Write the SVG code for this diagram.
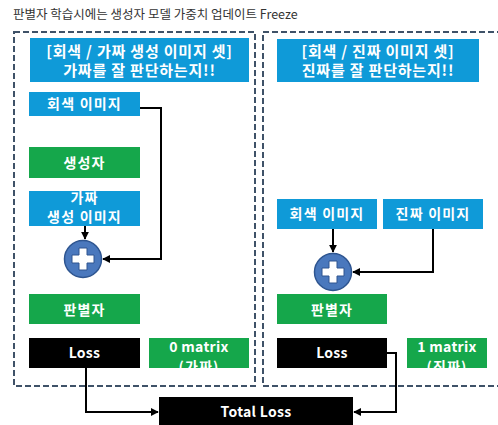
<svg xmlns="http://www.w3.org/2000/svg" width="498" height="425" viewBox="0 0 498 425">
<defs>
<marker id="ah" viewBox="0 0 10 10" refX="9" refY="5" markerWidth="4" markerHeight="4" orient="auto"><path d="M0,0 L10,5 L0,10 z" fill="#000"/></marker>
<clipPath id="cz"><rect x="149" y="338" width="100" height="30"/></clipPath>
<clipPath id="co"><rect x="407" y="338" width="80" height="30"/></clipPath>
<style>
.t{font-family:"Noto Sans CJK KR","Malgun Gothic",sans-serif;font-weight:bold;fill:#fff;text-anchor:middle;font-size:14px;letter-spacing:1.2px}
.h{font-size:15px;letter-spacing:0.8px}
.l{letter-spacing:0.3px}
.blue{fill:#0f9ad8}
.green{fill:#15a74b}
.black{fill:#000}
.dash{fill:none;stroke:#3f5268;stroke-width:2;stroke-dasharray:6,3}
.c{fill:none;stroke:#000;stroke-width:2}
</style>
</defs>
<rect width="498" height="425" fill="#fff"/>
<text x="13" y="19" font-family="'Noto Sans CJK KR',sans-serif" font-size="12.5" fill="#333">판별자 학습시에는 생성자 모델 가중치 업데이트 Freeze</text>
<g id="frame-left"><rect class="dash" x="14" y="32" width="241" height="354"/></g>
<g id="frame-right"><rect class="dash" x="263" y="32" width="240" height="354"/></g>
<g id="hdr-left"><rect class="blue" x="30" y="38" width="219" height="44"/><text class="t h" x="139.500" y="57">[회색 / 가짜 생성 이미지 셋]</text><text class="t h" x="139.500" y="76">가짜를 잘 판단하는지!!</text></g>
<g id="hdr-right"><rect class="blue" x="277" y="39" width="202" height="43"/><text class="t h" x="378" y="57">[회색 / 진짜 이미지 셋]</text><text class="t h" x="378" y="76">진짜를 잘 판단하는지!!</text></g>
<g id="gray-left"><rect class="blue" x="29" y="92" width="111" height="24"/><text class="t" x="84.500" y="109">회색 이미지</text></g>
<g id="gen"><rect class="green" x="29" y="147" width="111" height="31"/><text class="t" x="84.500" y="168">생성자</text></g>
<g id="fake-img"><rect class="blue" x="29" y="191" width="111" height="35"/><text class="t" x="84.500" y="203">가짜</text><text class="t" x="84.500" y="222">생성 이미지</text></g>
<g id="plus-left"><circle cx="83" cy="259" r="18.500" fill="#4a78bd" stroke="#2e5590" stroke-width="1.500"/><path d="M79,248 h8 v7 h7 v8 h-7 v7 h-8 v-7 h-7 v-8 h7 z" fill="#fff" stroke="#2e5590" stroke-width="1"/></g>
<g id="disc-left"><rect class="green" x="29" y="294" width="111" height="30"/><text class="t" x="84.500" y="315">판별자</text></g>
<g id="loss-left"><rect class="black" x="29" y="338" width="111" height="30"/><text class="t l" x="84.500" y="358">Loss</text></g>
<g id="zero"><rect class="green" x="149" y="338" width="100" height="30"/><g clip-path="url(#cz)"><text class="t l" x="199" y="352">0 matrix</text><text class="t" x="199" y="371.500">(가짜)</text></g></g>
<g id="gray-right"><rect class="blue" x="277" y="199" width="100" height="30"/><text class="t" x="327" y="219">회색 이미지</text></g>
<g id="real-img"><rect class="blue" x="383" y="199" width="100" height="30"/><text class="t" x="433" y="219">진짜 이미지</text></g>
<g id="plus-right"><circle cx="333" cy="272" r="18.500" fill="#4a78bd" stroke="#2e5590" stroke-width="1.500"/><path d="M329,261 h8 v7 h7 v8 h-7 v7 h-8 v-7 h-7 v-8 h7 z" fill="#fff" stroke="#2e5590" stroke-width="1"/></g>
<g id="disc-right"><rect class="green" x="277" y="294" width="110" height="30"/><text class="t" x="332" y="315">판별자</text></g>
<g id="loss-right"><rect class="black" x="277" y="338" width="110" height="30"/><text class="t l" x="332" y="358">Loss</text></g>
<g id="one"><rect class="green" x="407" y="338" width="80" height="30"/><g clip-path="url(#co)"><text class="t l" x="447" y="352">1 matrix</text><text class="t" x="447" y="371.500">(진짜)</text></g></g>
<g id="total"><rect class="black" x="159" y="397" width="194" height="28"/><text class="t l" x="256" y="417">Total Loss</text></g>
<g id="connectors">
<path class="c" d="M140,108 H161 V259 H103" marker-end="url(#ah)"/>
<path class="c" d="M85,226 V239" marker-end="url(#ah)"/>
<path class="c" d="M333,229 V252" marker-end="url(#ah)"/>
<path class="c" d="M433,229 V272 H353" marker-end="url(#ah)"/>
<path class="c" d="M86,368 V412 H158" marker-end="url(#ah)"/>
<path class="c" d="M387,353 H396 V412 H354" marker-end="url(#ah)"/>
</g>
</svg>
